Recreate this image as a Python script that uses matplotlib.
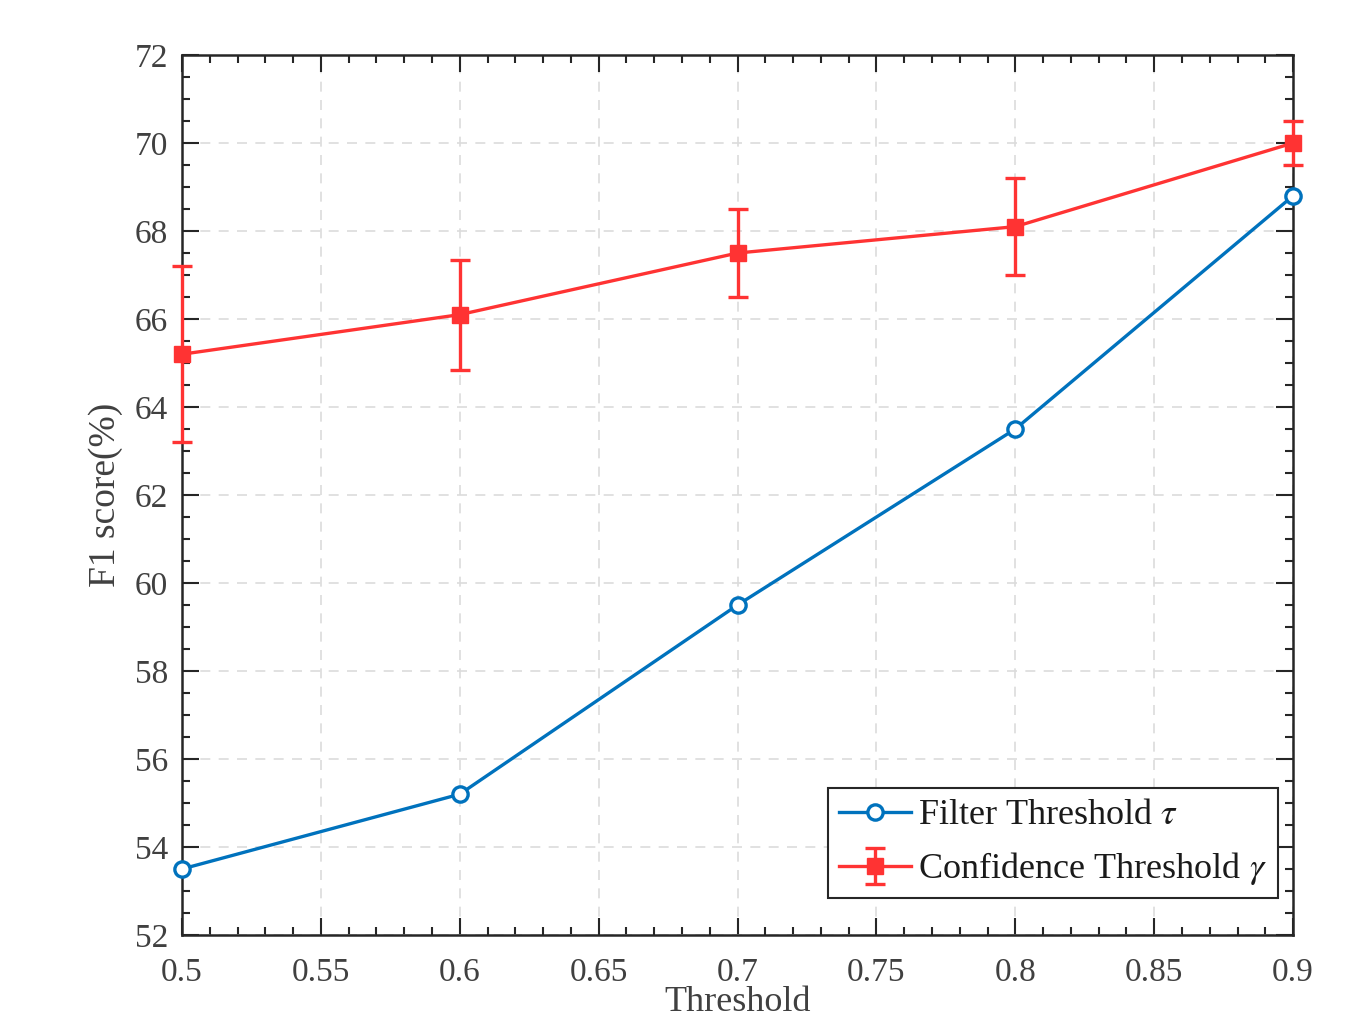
import numpy as np
import matplotlib.pyplot as plt
from matplotlib.ticker import MultipleLocator

# data
umbral = [0.5, 0.6, 0.7, 0.8, 0.9]
f1_filtro = [53.5, 55.2, 59.5, 63.5, 68.8]
f1_conf = [65.2, 66.1, 67.5, 68.1, 70.0]
err_conf = [2.0, 1.25, 1.0, 1.1, 0.5]

xticks = [0.5, 0.55, 0.6, 0.65, 0.7, 0.75, 0.8, 0.85, 0.9]
xtick_labels = ["0.5", "0.55", "0.6", "0.65", "0.7", "0.75", "0.8", "0.85", "0.9"]
yticks = [52, 54, 56, 58, 60, 62, 64, 66, 68, 70, 72]

plt.rcParams['font.family'] = ['Liberation Serif', 'DejaVu Serif']
plt.rcParams['mathtext.fontset'] = 'stix'

fig = plt.figure(figsize=(13.66, 10.25), dpi=100)
fig.patch.set_facecolor('white')
ax = fig.add_axes([0.1332, 0.0878, 0.8134, 0.8585])

azul = '#0072BD'
rojo = '#FF3333'

ax.plot(umbral, f1_filtro, '-o', color=azul, lw=2.4, ms=11, mfc='white', mew=2.4,
        label=r'Filter Threshold $\tau$', zorder=3, clip_on=False)
ax.errorbar(umbral, f1_conf, yerr=err_conf, fmt='-s', color=rojo, lw=2.4, ms=11,
            elinewidth=2.4, capsize=7, capthick=2.4,
            label=r'Confidence Threshold $\gamma$', zorder=3, clip_on=False)

ax.set_xlim(0.5, 0.9)
ax.set_ylim(52, 72)
ax.set_xticks(xticks)
ax.set_xticklabels(xtick_labels)
ax.set_yticks(yticks)
ax.xaxis.set_minor_locator(MultipleLocator(0.01))
ax.yaxis.set_minor_locator(MultipleLocator(0.5))

ax.grid(True, which='major', ls=(0, (6, 5)), color='#dcdcdc', lw=1.2)
ax.set_axisbelow(True)

ax.tick_params(which='both', direction='in', top=True, right=True, colors='#262626',
               labelcolor='#404040', labelsize=24, width=1.5)
ax.tick_params(which='major', length=12)
ax.tick_params(axis='x', which='major', pad=16)
ax.tick_params(axis='y', which='major', pad=10)
ax.tick_params(which='minor', length=6)
for s in ax.spines.values():
    s.set_color('#262626')
    s.set_linewidth(1.8)

ax.set_xlabel('Threshold', fontsize=26, color='#404040', labelpad=-1)
ax.set_ylabel('F1 score(%)', fontsize=27, color='#404040', labelpad=8)

leg = ax.legend(loc='lower right', bbox_to_anchor=(0.9865, 0.042), borderaxespad=0,
                fontsize=26, frameon=True, fancybox=False,
                edgecolor='#262626', framealpha=1, borderpad=0.3, handlelength=2.0,
                labelspacing=0.5, handletextpad=0.2)
leg.get_frame().set_linewidth(1.5)
for t in leg.get_texts():
    t.set_color('#1a1a1a')

plt.savefig('out.png', dpi=100)
